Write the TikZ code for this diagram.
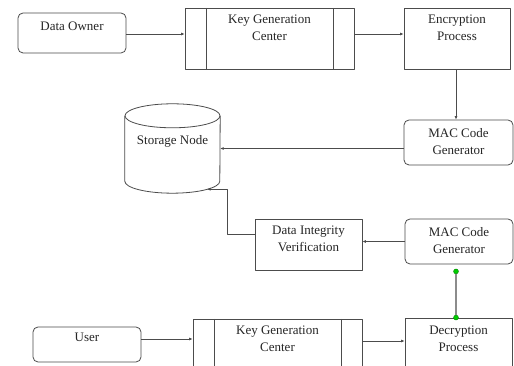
\documentclass[tikz,border=0pt]{standalone}
\usepackage{fontspec}
\setmainfont{Liberation Serif}
\usetikzlibrary{arrows.meta,calc,positioning}

\begin{document}
\begin{tikzpicture}[x=1pt,y=1pt,line join=round,
  every node/.style={font=\fontsize{13}{17}\selectfont},
  flow/.style={draw=black!70,line width=.7pt,-{Latex[length=3.5pt,width=3pt]}},
  box/.style={draw=black!70,line width=.8pt,inner sep=0pt},
  roundbox/.style={box,rounded corners=5pt},
  keybox/.style={box,path picture={
    \draw[black!70,line width=.8pt] ([xshift=21pt]path picture bounding box.north west)
      -- ([xshift=21pt]path picture bounding box.south west);
    \draw[black!70,line width=.8pt] ([xshift=-21pt]path picture bounding box.north east)
      -- ([xshift=-21pt]path picture bounding box.south east);}},
  lab/.style={align=center,anchor=center,inner sep=0pt,text=black!85},
  link/.style={draw=black!45,line width=1.3pt},
  greendot/.style={circle,fill=green!80!black,draw=green!45!black,line width=.3pt,
    inner sep=0pt,minimum size=5pt}]

\path[use as bounding box,fill=white] (0,0) rectangle (514,366);

% Upload side: owner, key centre, encryption, MAC.
\node[roundbox,minimum width=108pt,minimum height=40pt,
  label={[lab,yshift=-14pt]north:Data Owner}] (owner) at (72,333) {};
\node[keybox,minimum width=169pt,minimum height=61pt,
  label={[lab,yshift=-20.5pt]north:{Key Generation\\Center}}] (kgc1) at (269.5,327.5) {};
\node[box,minimum width=106pt,minimum height=61pt,
  label={[lab,yshift=-20.5pt]north:{Encryption\\Process}}] (enc) at (457,327.5) {};
\node[roundbox,minimum width=109pt,minimum height=45pt,
  label={[lab,yshift=-22pt]north:{MAC Code\\Generator}}] (mac1) at (458.5,223.5) {};

% Storage node drawn as a cylinder round an empty node.
\node[inner sep=0pt,minimum width=95pt,minimum height=89pt,
  label={[lab,yshift=-38pt]north:Storage Node}] (store) at (172.5,217.5) {};
\draw[black!70,line width=.8pt] ([yshift=-12pt]store.north west)
  -- ([yshift=12pt]store.south west)
  arc[start angle=180,end angle=360,x radius=47.5pt,y radius=12pt]
  -- ([yshift=-12pt]store.north east);
\draw[black!70,line width=.8pt] ([yshift=-12pt]store.north) ellipse [x radius=47.5pt,y radius=12pt];
\coordinate (storein) at ([shift={(34.5,4)}]store.south);

% Checking side.
\node[box,minimum width=107pt,minimum height=51pt,
  label={[lab,yshift=-20.5pt]north:{Data Integrity\\Verification}}] (div) at (308.5,121.5) {};
\node[roundbox,minimum width=108pt,minimum height=45pt,
  label={[lab,yshift=-22pt]north:{MAC Code\\Generator}}] (mac2) at (459,124.5) {};

% Download side: user, key centre, decryption (cut by the lower edge).
\node[roundbox,minimum width=108pt,minimum height=35pt,
  label={[lab,yshift=-11pt]north:User}] (user) at (87,21.5) {};
\node[keybox,minimum width=169pt,minimum height=60pt,
  label={[lab,yshift=-20.5pt]north:{Key Generation\\Center}}] (kgc2) at (277.5,17) {};
\node[box,minimum width=107pt,minimum height=60pt,
  label={[lab,yshift=-21.5pt]north:{Decryption\\Process}}] (dec) at (458.5,18) {};

% Connectors.
\draw[flow] ([yshift=-1pt]owner.east) -- ([yshift=-1pt]owner.east -| kgc1.west);
\draw[flow] ([yshift=4.5pt]kgc1.east) -- ([yshift=4.5pt]enc.west);
\draw[flow] ([xshift=-1pt]enc.south) -- ([xshift=-1pt]enc.south |- mac1.north);
\draw[flow] (store.east -| mac1.west) -- (store.east);
\draw[flow] (mac2.west) -- (mac2.west -| div.east);
\draw[flow] ([yshift=10.5pt]div.west) -- ++(-27pt,0) |- (storein);
\draw[flow] ([yshift=5.5pt]user.east) -- ([yshift=5.5pt]user.east -| kgc2.west);
\draw[flow] ([yshift=8pt]kgc2.east) -- ([yshift=8pt]kgc2.east -| dec.west);

% Green-ended link between MAC generator and decryption.
\node[greendot] (dottop) at ([shift={(-3,-7)}]mac2.south) {};
\node[greendot] (dotbot) at (dottop |- dec.north) {};
\draw[link] (dottop) -- (dotbot);

\end{tikzpicture}
\end{document}
